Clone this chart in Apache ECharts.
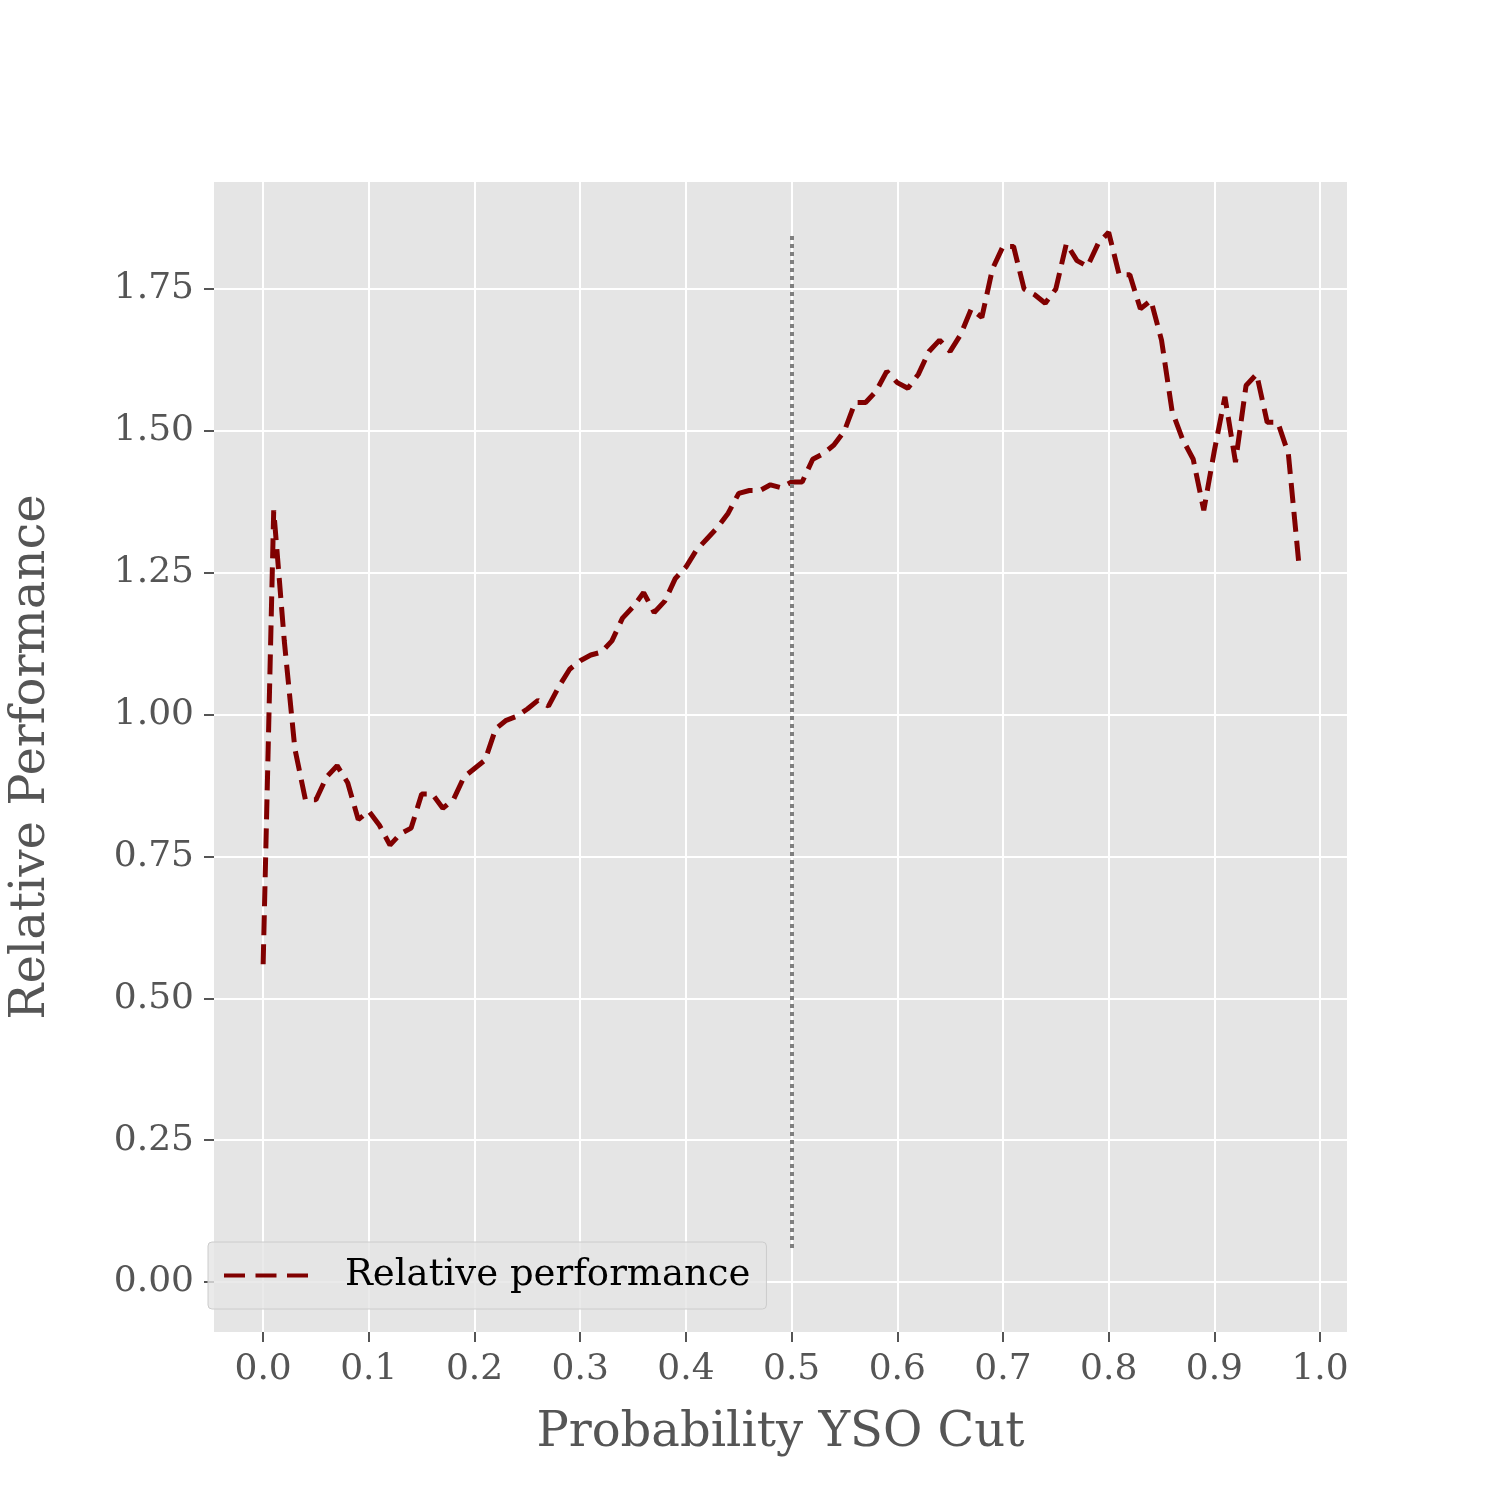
<!DOCTYPE html>
<html>
<head>
<meta charset="utf-8">
<script src="https://cdn.jsdelivr.net/npm/echarts@6.0.0/dist/echarts.min.js"></script>
<style>body{margin:0}#chart{width:1500px;height:1500px}</style>
</head>
<body>
<div id="chart"></div>
<script>
// probability cuts 0.00 .. 0.98
var cuts = [];
for (var i = 0; i <= 98; i++) cuts.push(+(i / 100).toFixed(2));
var perf = [0.56,1.36,1.13,0.94,0.85,0.85,0.89,0.91,0.88,0.815,
  0.83,0.805,0.77,0.79,0.80,0.86,0.86,0.835,0.85,0.89,
  0.905,0.92,0.975,0.99,0.997,1.01,1.025,1.015,1.05,1.08,
  1.095,1.105,1.11,1.13,1.17,1.19,1.215,1.18,1.20,1.24,
  1.26,1.29,1.31,1.33,1.355,1.39,1.395,1.395,1.405,1.40,
  1.41,1.41,1.45,1.46,1.475,1.50,1.55,1.55,1.57,1.605,
  1.585,1.575,1.60,1.64,1.66,1.64,1.67,1.715,1.70,1.785,
  1.825,1.825,1.75,1.74,1.725,1.75,1.83,1.80,1.79,1.83,
  1.85,1.775,1.775,1.715,1.73,1.66,1.535,1.485,1.45,1.36,
  1.465,1.56,1.445,1.58,1.60,1.515,1.515,1.46,1.265];
var xTicks = [0,0.1,0.2,0.3,0.4,0.5,0.6,0.7,0.8,0.9,1.0];
var yTicks = [0,0.25,0.5,0.75,1.0,1.25,1.5,1.75];

var font = 'DejaVu Serif';
var chart = echarts.init(document.getElementById('chart'));
chart.setOption({
  animation: false,
  grid: {left: 190, right: 153, top: 182, bottom: 168, show: true, backgroundColor: '#e5e5e5', borderWidth: 0},
  xAxis: {
    type: 'value', min: -0.0465, max: 1.0255,
    name: 'Probability YSO Cut', nameLocation: 'middle', nameGap: 78,
    nameTextStyle: {fontFamily: font, fontSize: 48, color: '#555'},
    axisLine: {show: false, onZero: false},
    axisTick: {show: true, length: 10, customValues: xTicks, lineStyle: {color: '#555', width: 2}},
    axisLabel: {customValues: xTicks, fontFamily: font, fontSize: 36, color: '#555', margin: 20,
      formatter: function (v) { return v.toFixed(1); }},
    splitLine: {show: true, lineStyle: {color: '#fff', width: 2}}
  },
  yAxis: {
    type: 'value', min: -0.088, max: 1.9386,
    name: 'Relative Performance', nameLocation: 'middle', nameGap: 158,
    nameTextStyle: {fontFamily: font, fontSize: 48, color: '#555'},
    axisLine: {show: false, onZero: false},
    axisTick: {show: true, length: 10, customValues: yTicks, lineStyle: {color: '#555', width: 2}},
    axisLabel: {customValues: yTicks, fontFamily: font, fontSize: 36, color: '#555', margin: 20,
      formatter: function (v) { return v.toFixed(2); }},
    splitLine: {show: true, lineStyle: {color: '#fff', width: 2}}
  },
  legend: {
    left: 208, top: 1242, orient: 'vertical',
    backgroundColor: 'rgba(229,229,229,0.8)', borderColor: '#ccc', borderWidth: 1, borderRadius: 4,
    padding: [15, 16, 15, 16], itemWidth: 84, itemHeight: 20,
    textStyle: {fontFamily: font, fontSize: 37, color: '#000', padding: [0, 0, 0, 32]},
    data: [{name: 'Relative performance', icon: 'path://M0,8H20V12H0ZM30,8H50V12H30ZM60,8H80V12H60Z', itemStyle: {color: '#800000'}}]
  },
  series: [{
    name: 'Relative performance', type: 'line', showSymbol: false, symbol: 'none',
    data: cuts.map(function (c, i) { return [c, perf[i]]; }),
    lineStyle: {color: '#800000', width: 5, type: [20, 9]},
    itemStyle: {color: '#800000'},
    markLine: {
      silent: true, symbol: 'none', label: {show: false},
      lineStyle: {color: '#808080', width: 4, type: [4, 4]},
      data: [[{coord: [0.5, 0.06]}, {coord: [0.5, 1.85]}]]
    }
  }]
});
</script>
</body>
</html>
